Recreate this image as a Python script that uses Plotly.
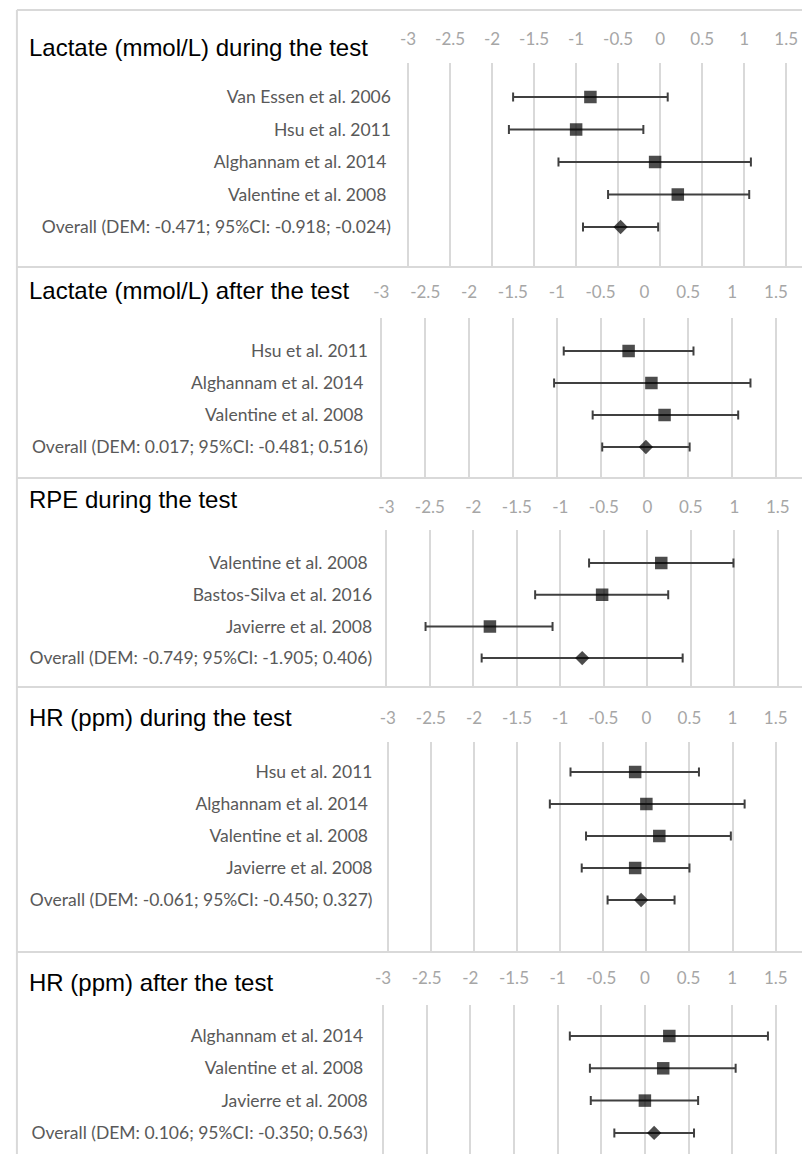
import plotly.graph_objects as go

# ---------------- data ----------------
titles = ["Lactate (mmol/L) during the test", "Lactate (mmol/L) after the test",
          "RPE during the test", "HR (ppm) during the test", "HR (ppm) after the test"]

p1_names = ["Van Essen et al. 2006", "Hsu et al. 2011", "Alghannam et al. 2014 ",
            "Valentine et al. 2008 ", "Overall (DEM: -0.471; 95%CI: -0.918; -0.024)"]
p1_mean = [-0.83, -1.00, -0.06, 0.21, -0.471]
p1_low = [-1.75, -1.80, -1.21, -0.62, -0.918]
p1_high = [0.09, -0.20, 1.08, 1.06, -0.024]

p2_names = ["Hsu et al. 2011", "Alghannam et al. 2014 ", "Valentine et al. 2008 ",
            "Overall (DEM: 0.017; 95%CI: -0.481; 0.516)"]
p2_mean = [-0.18, 0.08, 0.23, 0.017]
p2_low = [-0.92, -1.03, -0.59, -0.481]
p2_high = [0.56, 1.21, 1.07, 0.516]

p3_names = ["Valentine et al. 2008 ", "Bastos-Silva et al. 2016", "Javierre et al. 2008",
            "Overall (DEM: -0.749; 95%CI: -1.905; 0.406)"]
p3_mean = [0.16, -0.52, -1.81, -0.749]
p3_low = [-0.67, -1.29, -2.55, -1.905]
p3_high = [0.99, 0.24, -1.09, 0.406]

p4_names = ["Hsu et al. 2011", "Alghannam et al. 2014 ", "Valentine et al. 2008 ",
            "Javierre et al. 2008", "Overall (DEM: -0.061; 95%CI: -0.450; 0.327)"]
p4_mean = [-0.13, 0.00, 0.15, -0.13, -0.061]
p4_low = [-0.88, -1.12, -0.70, -0.75, -0.450]
p4_high = [0.61, 1.14, 0.98, 0.50, 0.327]

p5_names = ["Alghannam et al. 2014 ", "Valentine et al. 2008 ", "Javierre et al. 2008",
            "Overall (DEM: 0.106; 95%CI: -0.350; 0.563)"]
p5_mean = [0.28, 0.21, 0.00, 0.106]
p5_low = [-0.86, -0.63, -0.62, -0.350]
p5_high = [1.41, 1.04, 0.61, 0.563]

tick_vals = [-3, -2.5, -2, -1.5, -1, -0.5, 0, 0.5, 1, 1.5]
tick_text = ["-3", "-2.5", "-2", "-1.5", "-1", "-0.5", "0", "0.5", "1", "1.5"]

panels = [
    (p1_names, p1_mean, p1_low, p1_high),
    (p2_names, p2_mean, p2_low, p2_high),
    (p3_names, p3_mean, p3_low, p3_high),
    (p4_names, p4_mean, p4_low, p4_high),
    (p5_names, p5_mean, p5_low, p5_high),
]

# ---------------- layout geometry (pixels in the reference) ----------------
OFF = 8                       # page body margin
W, H = 810 - OFF, 1154 - OFF  # figure size
geom = [
    dict(x0=666, ppu=85.3, top=63, bottom=267, row0=97, step=32.5, ticky=37, titley=47, lab=390),
    dict(x0=650, ppu=89.0, top=318, bottom=478, row0=351, step=32.0, ticky=290, titley=290, lab=367),
    dict(x0=653, ppu=88.3, top=530, bottom=687, row0=563, step=31.7, ticky=505, titley=499, lab=371),
    dict(x0=652, ppu=87.5, top=742, bottom=952, row0=772, step=32.0, ticky=716, titley=717, lab=371),
    dict(x0=650.5, ppu=88.6, top=1005, bottom=1154, row0=1036, step=32.3, ticky=976, titley=982, lab=366),
]
XR = [-3.05, 1.55]

def px(v):
    return (v - OFF) / W

def py(v):
    return 1 - (v - OFF) / H

label_font = "Lato, Liberation Sans, sans-serif"

fig = go.Figure()
layout_axes = {}
annotations = []
for i, ((names, mean, low, high), g) in enumerate(zip(panels, geom)):
    n = i + 1
    xa = "x" if n == 1 else f"x{n}"
    ya = "y" if n == 1 else f"y{n}"
    rows = list(range(len(names)))
    is_overall = [nm.startswith("Overall") for nm in names]
    plus = [h - m for m, h in zip(mean, high)]
    minus = [m - l for m, l in zip(mean, low)]
    # confidence intervals
    fig.add_trace(go.Scatter(
        x=mean, y=rows, mode="markers", xaxis=xa, yaxis=ya, showlegend=False,
        marker=dict(size=1, color="rgba(0,0,0,0)"), hoverinfo="skip",
        error_x=dict(type="data", symmetric=False, array=plus, arrayminus=minus,
                     color="#404040", thickness=2, width=4.5),
    ))
    # point estimates on top
    fig.add_trace(go.Scatter(
        x=mean, y=rows, mode="markers", xaxis=xa, yaxis=ya, showlegend=False,
        marker=dict(symbol=["diamond" if o else "square" for o in is_overall],
                    size=[11 if o else 12.5 for o in is_overall], color="black",
                    line=dict(width=0)),
    ))
    left_px = g["x0"] + XR[0] * g["ppu"]
    right_px = g["x0"] + XR[1] * g["ppu"]
    ytop = (g["top"] - g["row0"]) / g["step"]
    ybot = (g["bottom"] - g["row0"]) / g["step"]
    xkey = "xaxis" if n == 1 else f"xaxis{n}"
    ykey = "yaxis" if n == 1 else f"yaxis{n}"
    layout_axes[xkey] = dict(
        domain=[px(left_px), min(1, px(right_px))], range=XR, anchor=ya, side="top",
        tickvals=tick_vals, ticktext=tick_text, showgrid=True, gridcolor="#d9d9d9",
        gridwidth=1.5, zeroline=False, showline=False, ticks="",
        ticklabelstandoff=int(round(max(0, g["top"] - g["ticky"] - 12))),
        tickfont=dict(family=label_font, size=17, color="#a6a6a6"),
        fixedrange=True,
    )
    layout_axes[ykey] = dict(
        domain=[max(0, py(g["bottom"])), py(g["top"])], range=[ybot, ytop], anchor=xa,
        tickvals=rows, ticktext=names, showgrid=False, zeroline=False, showline=False,
        ticks="", ticklabelstandoff=int(round(max(0, left_px - g["lab"] - 4))),
        tickfont=dict(family=label_font, size=17.5, color="#595959"),
        fixedrange=True,
    )
    annotations.append(dict(
        text=titles[i], xref="paper", yref="paper", x=px(23), y=py(g["titley"]),
        xanchor="left", yanchor="middle", showarrow=False,
        font=dict(family="Liberation Sans, Arial, sans-serif", size=24, color="black"),
    ))

shapes = []
line_style = dict(color="#d9d9d9", width=2)
shapes.append(dict(type="line", xref="paper", yref="paper", x0=px(13), x1=1, y0=py(10), y1=py(10), line=line_style))
shapes.append(dict(type="line", xref="paper", yref="paper", x0=px(13), x1=px(13), y0=py(10), y1=0, line=line_style))
for g in geom[:-1]:
    shapes.append(dict(type="line", xref="paper", yref="paper", x0=px(13), x1=1,
                       y0=py(g["bottom"]), y1=py(g["bottom"]), line=line_style))

fig.update_layout(
    width=W, height=H, margin=dict(l=0, r=0, t=0, b=0),
    paper_bgcolor="white", plot_bgcolor="white",
    annotations=annotations, shapes=shapes, **layout_axes,
)
fig.write_html("out.html")
